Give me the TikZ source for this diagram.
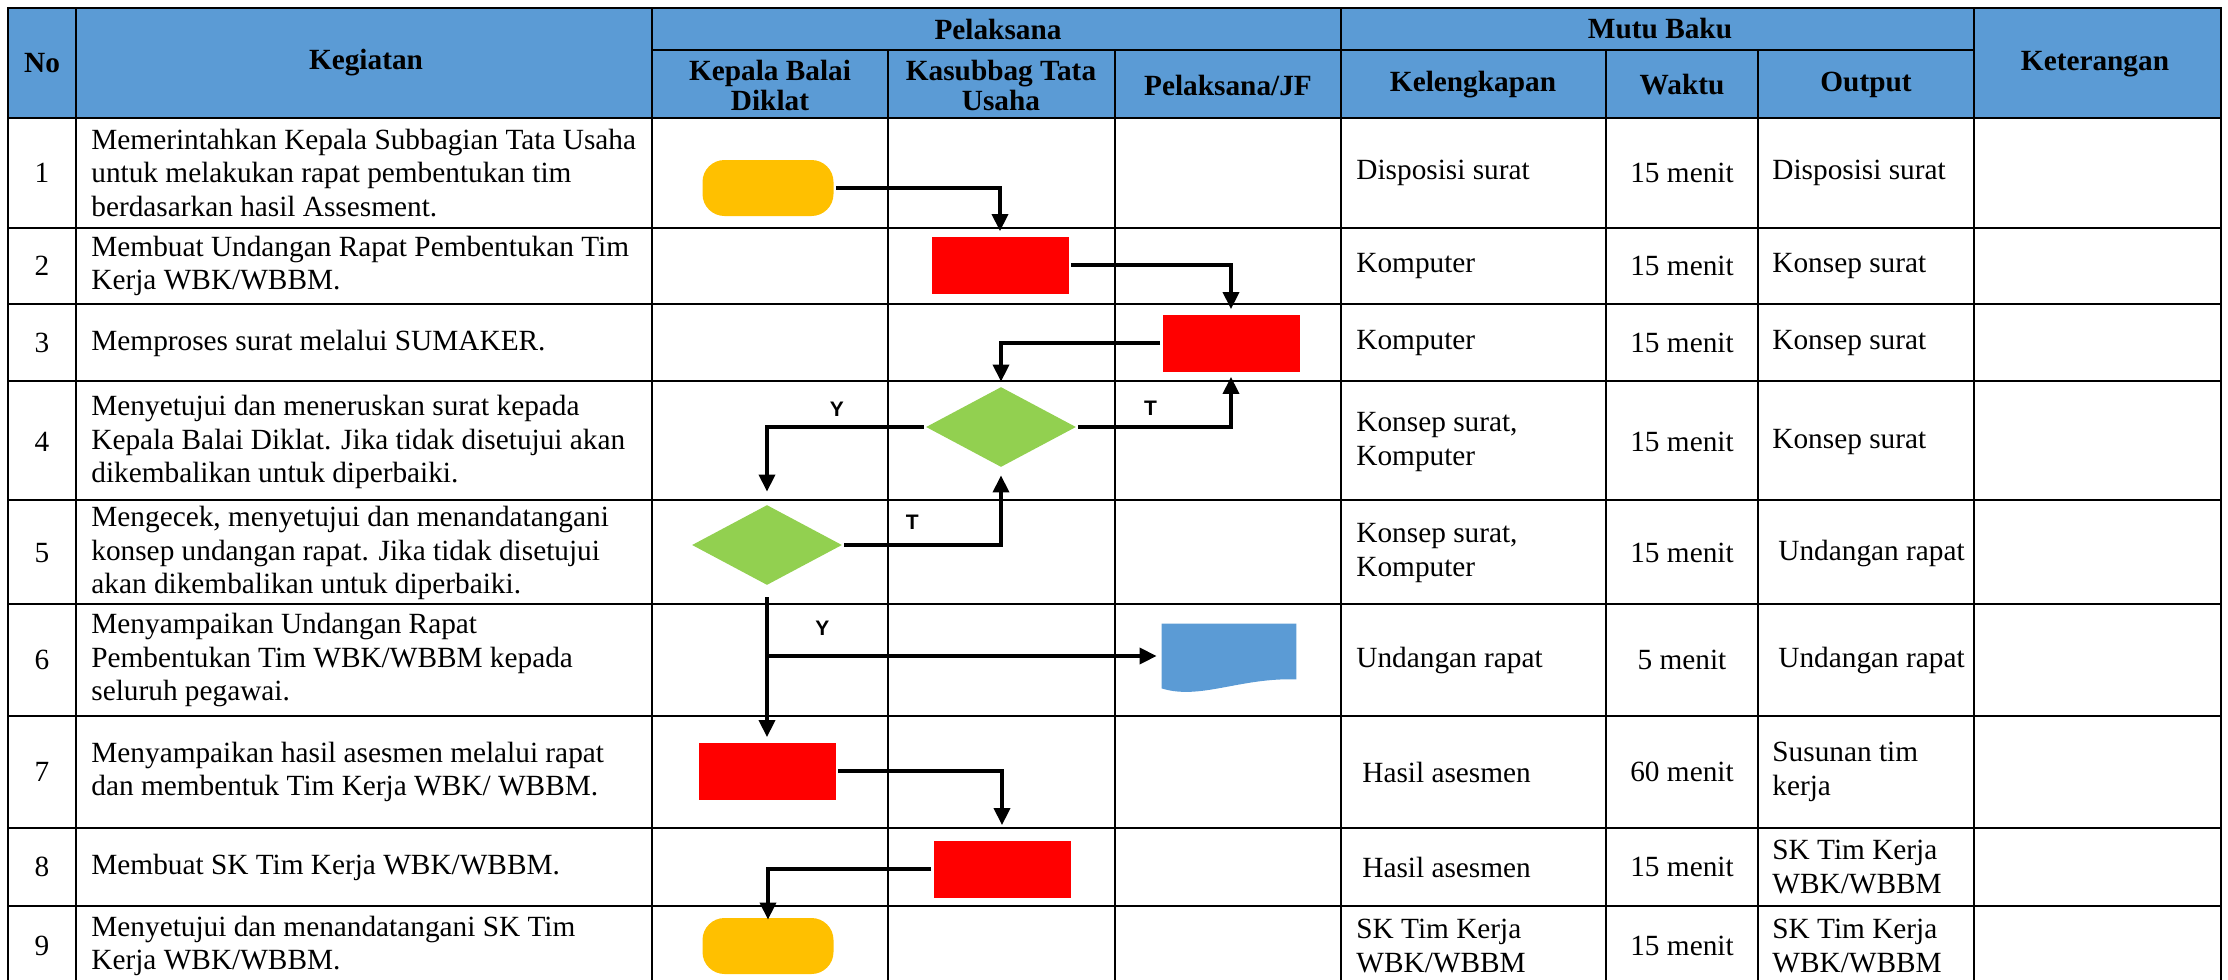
\documentclass[tikz,border=0pt]{standalone}
\usepackage{fontspec}
\setmainfont{Liberation Serif}
\newfontfamily\lblfont{Liberation Sans}
\usepackage{tikz}
\usetikzlibrary{arrows.meta,positioning,shapes.geometric,calc}
\definecolor{headblue}{RGB}{91,155,213}
\definecolor{startyellow}{RGB}{255,192,0}
\definecolor{actred}{RGB}{255,0,0}
\definecolor{askgreen}{RGB}{146,208,80}

\begin{document}
\begin{tikzpicture}[
  x=0.5pt, y=-0.5pt,
  font=\fontsize{14.65}{16.65}\selectfont,
  grid/.style={line width=1.1pt, line cap=rect},
  hd/.style={font=\fontsize{14.65}{15}\selectfont\bfseries, align=center, inner sep=0pt},
  cell/.style={anchor=west, align=left, inner sep=0pt},
  term/.style={fill=startyellow, rounded corners=11pt, minimum width=65.5pt, minimum height=28pt},
  act/.style={fill=actred, minimum width=68.5pt, minimum height=28.5pt},
  dec/.style={diamond, fill=askgreen, minimum width=75pt, minimum height=40pt, inner sep=0pt},
  docu/.style={minimum width=67pt, minimum height=32pt, inner sep=0pt},
  ar/.style={-{Triangle[length=8.5pt,width=8pt]}, line width=1.75pt, shorten <=1pt, shorten >=2.5pt},
  yt/.style={font=\lblfont\bfseries\fontsize{10.5}{12}\selectfont, inner sep=2pt}
]
\useasboundingbox (0,0) rectangle (2228,980);
\fill[headblue] (8,8) rectangle (2221,118);
\foreach \y in {8,118,228,304,381,500,604,716,828,906}
  \draw[grid] (8,\y) -- (2221,\y);
\draw[grid] (652,50) -- (1974,50);
\foreach \x in {8,76,652,1341,1974,2221}
  \draw[grid] (\x,8) -- (\x,980);
\foreach \x in {888,1115,1606,1758}
  \draw[grid] (\x,50) -- (\x,980);

\node[hd] (hno) at (42,63) {No};
\node[hd] (hkeg) at (366,63) {Kegiatan};
\node[hd] (hpel) at (998,29) {Pelaksana};
\node[hd] (hmutu) at (1660,29) {Mutu Baku};
\node[hd] (hket) at (2095,64) {Keterangan};
\node[hd] (hkbd) at (770,85) {Kepala Balai\\Diklat};
\node[hd] (hkts) at (1001,85) {Kasubbag Tata\\Usaha};
\node[hd] (hjf) at (1228,85) {Pelaksana/JF};
\node[hd] (hkel) at (1473,85) {Kelengkapan};
\node[hd] (hwkt) at (1682,85) {Waktu};
\node[hd] (hout) at (1866,85) {Output};

\foreach \n/\y/\keg/\kel/\wkt/\out in {
  1/173/{Memerintahkan Kepala Subbagian Tata Usaha\\untuk melakukan rapat pembentukan tim\\berdasarkan hasil Assesment.}/{Disposisi surat}/{15 menit}/{Disposisi surat},
  2/266/{Membuat Undangan Rapat Pembentukan Tim\\Kerja WBK/WBBM.}/{Komputer}/{15 menit}/{Konsep surat},
  3/343/{Memproses surat melalui SUMAKER.}/{Komputer}/{15 menit}/{Konsep surat},
  4/442/{Menyetujui dan meneruskan surat kepada\\Kepala Balai Diklat. Jika tidak disetujui akan\\dikembalikan untuk diperbaiki.}/{Konsep surat,\\Komputer}/{15 menit}/{Konsep surat},
  5/553/{Mengecek, menyetujui dan menandatangani\\konsep undangan rapat. Jika tidak disetujui\\akan dikembalikan untuk diperbaiki.}/{Konsep surat,\\Komputer}/{15 menit}/{\hspace{3pt}Undangan rapat},
  6/660/{Menyampaikan Undangan Rapat\\Pembentukan Tim WBK/WBBM kepada\\seluruh pegawai.}/{Undangan rapat}/{5 menit}/{\hspace{3pt}Undangan rapat},
  7/772/{Menyampaikan hasil asesmen melalui rapat\\dan membentuk Tim Kerja WBK/ WBBM.}/{\hspace{3pt}Hasil asesmen}/{60 menit}/{Susunan tim\\kerja},
  8/867/{Membuat SK Tim Kerja WBK/WBBM.}/{\hspace{3pt}Hasil asesmen}/{15 menit}/{SK Tim Kerja\\WBK/WBBM},
  9/946/{Menyetujui dan menandatangani SK Tim\\Kerja WBK/WBBM.}/{SK Tim Kerja\\WBK/WBBM}/{15 menit}/{SK Tim Kerja\\WBK/WBBM}}{
  \node (no\n) at (42,\y) {\n};
  \node[cell] (keg\n) at (91,\y) {\keg};
  \node[cell] (kel\n) at (1356,\y) {\kel};
  \node (wkt\n) at (1682,\y) {\wkt};
  \node[cell] (out\n) at (1772,\y) {\out};
}

\node[term] (start) at (768,188) {};
\node[act] (buat) at (1000,265) {};
\node[act] (proses) at (1231,343) {};
\node[dec] (setuju) at (1001,427) {};
\node[dec] (cek) at (767,545) {};
\node[docu] (undangan) at (1229,656) {};
\fill[headblue] (undangan.north west) -- (undangan.north east) -- ($(undangan.south east)+(0,-9)$)
  .. controls ($(undangan.south)+(11,-11)$) and ($(undangan.south)+(-29,12)$) .. (undangan.south west) -- cycle;
\node[act] (asesmen) at (767,771) {};
\node[act] (sk) at (1002,869) {};
\node[term] (ttd) at (768,946) {};

\draw[ar] (start.east) -| (buat.north);
\draw[ar] (buat.east) -| (proses.north);
\draw[ar] (proses.west) -| (setuju.north);
\draw[ar] (setuju.east) -| node[yt, pos=0.24, above=3pt] {T} (proses.south);
\draw[ar, shorten >=6.5pt] (setuju.west) -| node[yt, pos=0.28, above=2.5pt] {Y} (cek.north);
\draw[ar, shorten >=4pt] (cek.east) -| node[yt, pos=0.22, above=5pt] {T} (setuju.south);
\draw[ar, shorten <=6pt] (cek.south) -- (asesmen.north);
\draw[ar] (cek |- undangan.west) -- node[yt, pos=0.14, above=7.5pt] {Y} (undangan.west);
\draw[ar, shorten >=7.5pt] (asesmen.east) -| (sk.north);
\draw[ar, shorten >=-1pt] (sk.west) -| (ttd.north);
\end{tikzpicture}
\end{document}
